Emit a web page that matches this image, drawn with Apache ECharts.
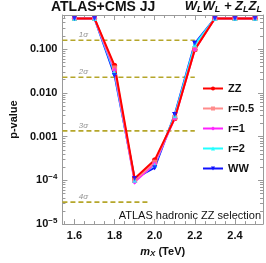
<!DOCTYPE html>
<html><head><meta charset="utf-8">
<script src="https://cdn.jsdelivr.net/npm/echarts@6/dist/echarts.min.js"></script>
<style>html,body{margin:0;padding:0;background:#fff}#c{width:266px;height:263px}</style>
</head><body><div id="c"></div>
<script>
var mx = [1.6, 1.7, 1.8, 1.9, 2.0, 2.1, 2.2, 2.3, 2.4, 2.5];
var pZZ  = [0.5, 0.5, 0.042, 1.1e-4, 2.9e-4, 2.6e-3, 0.097, 0.5, 0.5, 0.5];
var pR05 = [0.5, 0.5, 0.037, 1.0e-4, 2.6e-4, 2.7e-3, 0.10, 0.5, 0.5, 0.5];
var pR1  = [0.5, 0.5, 0.033, 0.92e-4, 2.4e-4, 2.6e-3, 0.098, 0.5, 0.5, 0.5];
var pR2  = [0.5, 0.5, 0.029, 1.0e-4, 2.25e-4, 3.0e-3, 0.125, 0.5, 0.5, 0.5];
var pWW  = [0.5, 0.5, 0.025, 1.1e-4, 1.95e-4, 3.2e-3, 0.135, 0.5, 0.5, 0.5];
var sigmaNames = ['1σ', '2σ', '3σ', '4σ'];
var sigmaP = [0.1587, 0.02275, 0.00135, 3.17e-5];
var sigmaEnd = [2.2, 2.2, 2.2, 1.97];
var xTicks = [1.6, 1.8, 2.0, 2.2, 2.4];
var xMinor = [1.55, 1.65, 1.7, 1.75, 1.85, 1.9, 1.95, 2.05, 2.1, 2.15, 2.25, 2.3, 2.35, 2.45, 2.5];
var yTicks = [1e-5, 1e-4, 1e-3, 1e-2, 1e-1];
var yTickLabels = ['10^-5', '10^-4', '0.001', '0.010', '0.100'];

var names = ['ZZ', 'r=0.5', 'r=1', 'r=2', 'WW'];
var vals = [pZZ, pR05, pR1, pR2, pWW];
var colors = ['#ff0000', '#ff8c8c', '#ff22ff', '#22ffff', '#1010ff'];
var symbols = ['circle', 'rect', 'diamond', 'triangle', 'path://M0,0 L10,0 L5,9 Z'];

var yMinor = [];
for (var e = -5; e <= -1; e++) { for (var k = 2; k <= 9; k++) { var v = k * Math.pow(10, e); if (v <= 0.6) yMinor.push(v); } }

function pairs(a) { return mx.map(function (x, i) { return [x, a[i]]; }); }

var series = [];
names.forEach(function (n, i) {
  series.push({
    name: n, type: 'line', data: pairs(vals[i]), xAxisIndex: 0, yAxisIndex: 0,
    symbol: symbols[i], symbolSize: 5, showSymbol: true,
    lineStyle: { color: colors[i], width: 2 }, itemStyle: { color: colors[i] },
    z: 10 - i, animation: false, silent: true
  });
});
names.forEach(function (n, i) {
  series.push({
    type: 'scatter', data: pairs(vals[i]), xAxisIndex: 0, yAxisIndex: 0,
    symbol: symbols[i], symbolSize: 5, itemStyle: { color: colors[i] },
    z: 20 + i, animation: false, silent: true
  });
});
sigmaP.forEach(function (p, i) {
  series.push({
    type: 'line', data: [[1.54, p], [sigmaEnd[i], p]], xAxisIndex: 0, yAxisIndex: 0,
    symbol: 'none', lineStyle: { color: '#b5a62a', width: 1.6, type: [5, 3] },
    z: 3, animation: false, silent: true
  });
  series.push({
    type: 'scatter', data: [[1.645, p]], xAxisIndex: 0, yAxisIndex: 0,
    symbolSize: 0, z: 3, animation: false, silent: true,
    label: { show: true, position: 'top', distance: 1, formatter: sigmaNames[i],
      color: '#777', fontSize: 8, fontStyle: 'italic', fontFamily: 'Liberation Sans' }
  });
});

var frame = '#9a9a9a';
var option = {
  animation: false,
  grid: { left: 47, right: 3, top: 15, bottom: 33, show: false },
  legend: {
    data: names, orient: 'vertical', left: 197, top: 78, itemGap: 9,
    itemWidth: 20, itemHeight: 5,
    textStyle: { fontSize: 11, fontWeight: 'bold', color: '#111', fontFamily: 'Liberation Sans' }
  },
  xAxis: [
    { type: 'value', min: 1.54, max: 2.54, position: 'bottom',
      name: '{i|m}{s|X} (TeV)', nameLocation: 'middle', nameGap: 19,
      nameTextStyle: { fontSize: 11, fontWeight: 'bold', color: '#111', fontFamily: 'Liberation Sans',
        rich: { i: { fontStyle: 'italic', fontWeight: 'bold', fontSize: 11 }, s: { fontStyle: 'italic', fontWeight: 'bold', fontSize: 8, verticalAlign: 'bottom', padding: [5, 0, 0, 0] } } },
      axisLine: { lineStyle: { color: frame } }, splitLine: { show: false },
      axisTick: { inside: true, length: 5, lineStyle: { color: frame }, customValues: xTicks },
      axisLabel: { customValues: xTicks, formatter: function (v) { return v.toFixed(1); },
        fontSize: 11, fontWeight: 'bold', color: '#111', margin: 6, fontFamily: 'Liberation Sans' } },
    { type: 'value', min: 1.54, max: 2.54, position: 'bottom',
      axisLine: { show: false }, splitLine: { show: false }, axisLabel: { show: false },
      axisTick: { inside: true, length: 3, lineStyle: { color: frame }, customValues: xMinor } },
    { type: 'value', min: 1.54, max: 2.54, position: 'top',
      axisLine: { lineStyle: { color: frame } }, splitLine: { show: false }, axisLabel: { show: false },
      axisTick: { inside: true, length: 5, lineStyle: { color: frame }, customValues: xTicks } },
    { type: 'value', min: 1.54, max: 2.54, position: 'top',
      axisLine: { show: false }, splitLine: { show: false }, axisLabel: { show: false },
      axisTick: { inside: true, length: 3, lineStyle: { color: frame }, customValues: xMinor } }
  ],
  yAxis: [
    { type: 'log', min: 1e-5, max: 0.6, position: 'left',
      name: 'p-value', nameLocation: 'middle', nameGap: 37,
      nameTextStyle: { fontSize: 11, fontWeight: 'bold', color: '#111', fontFamily: 'Liberation Sans' },
      axisLine: { show: true, lineStyle: { color: frame } }, splitLine: { show: false },
      axisTick: { show: true, inside: true, length: 5, lineStyle: { color: frame }, customValues: yTicks },
      axisLabel: { customValues: yTicks, margin: 5,
        formatter: function (v) {
          var idx = yTicks.findIndex(function (t) { return Math.abs(Math.log10(t) - Math.log10(v)) < 1e-6; });
          var s = idx >= 0 ? yTickLabels[idx] : '';
          if (s.indexOf('^') > 0) { var p = s.split('^'); return '{b|' + p[0] + '}{sup|' + p[1].replace('-', '−') + '}'; }
          return '{b|' + s + '}';
        },
        rich: { b: { fontSize: 11, fontWeight: 'bold', color: '#111', fontFamily: 'Liberation Sans' },
          sup: { fontSize: 8, fontWeight: 'bold', color: '#111', verticalAlign: 'top', padding: [0, 0, 7, 0], fontFamily: 'Liberation Sans' } } } },
    { type: 'log', min: 1e-5, max: 0.6, position: 'left',
      axisLine: { show: false }, splitLine: { show: false }, axisLabel: { show: false },
      axisTick: { show: true, inside: true, length: 3, lineStyle: { color: frame }, customValues: yMinor } },
    { type: 'log', min: 1e-5, max: 0.6, position: 'right',
      axisLine: { show: true, lineStyle: { color: frame } }, splitLine: { show: false }, axisLabel: { show: false },
      axisTick: { show: true, inside: true, length: 5, lineStyle: { color: frame }, customValues: yTicks } },
    { type: 'log', min: 1e-5, max: 0.6, position: 'right',
      axisLine: { show: false }, splitLine: { show: false }, axisLabel: { show: false },
      axisTick: { show: true, inside: true, length: 3, lineStyle: { color: frame }, customValues: yMinor } }
  ],
  graphic: [
    { type: 'text', left: 51, top: 0, style: { text: 'ATLAS+CMS JJ', fontSize: 14, fontWeight: 'bold', fill: '#111', fontFamily: 'Liberation Sans' } },
    { type: 'text', right: 4, top: 0, style: { text: '{a|W}{s|L}{a|W}{s|L}{a| + Z}{s|L}{a|Z}{s|L}',
        rich: { a: { fontSize: 13, fontWeight: 'bold', fontStyle: 'italic', fill: '#111', fontFamily: 'Liberation Sans' },
          s: { fontSize: 9, fontWeight: 'bold', fontStyle: 'italic', fill: '#111', verticalAlign: 'bottom', padding: [6, 0, 0, 0], fontFamily: 'Liberation Sans' } } } },
    { type: 'text', right: 5, top: 210, style: { text: 'ATLAS hadronic ZZ selection', fontSize: 11, fill: '#111', fontFamily: 'Liberation Sans' } }
  ],
  series: series
};
var chart = echarts.init(document.getElementById('c'), null, { renderer: 'canvas' });
chart.setOption(option);
</script></body></html>
